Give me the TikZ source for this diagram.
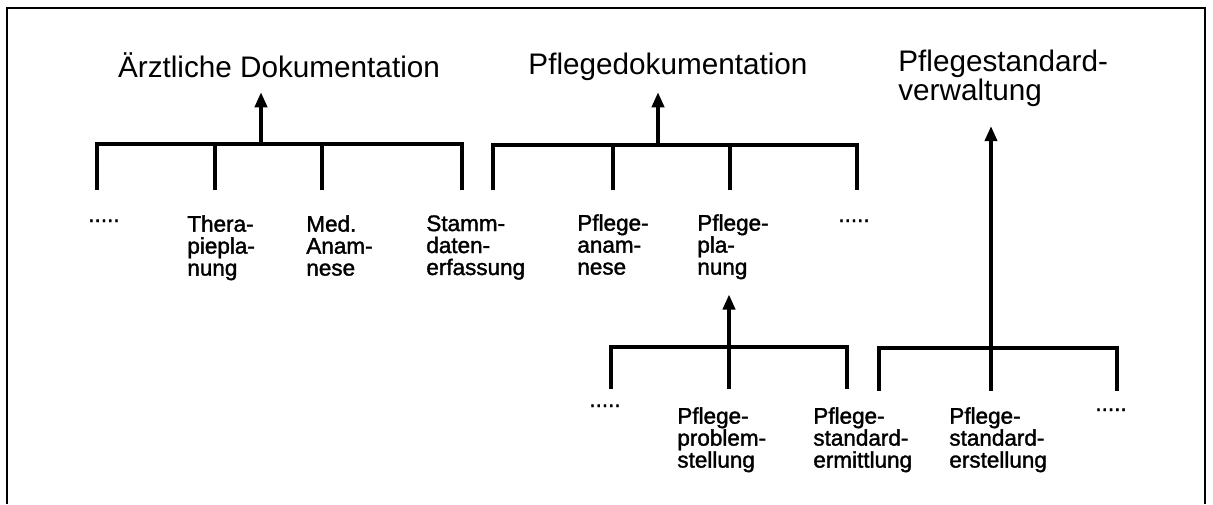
\documentclass[tikz,border=0pt]{standalone}
\usepackage{fontspec}
\setmainfont{Liberation Sans}
\newfontfamily\leafface{Liberation Sans}[FakeBold=1.5]
\usetikzlibrary{arrows.meta}

\newcommand{\titlefont}{\fontsize{16.9}{16.5}\selectfont}
\newcommand{\leaffont}{\leafface\fontsize{12.8}{12.5}\selectfont}

\begin{document}
\begin{tikzpicture}[
    x=0.2mm, y=-0.2mm,
    % Text Styles
    title/.style={inner sep=0pt, text depth=0pt, font=\titlefont},
    leaf/.style={anchor=north west, align=left, inner sep=0pt, font=\leaffont},
    dots/.style={anchor=base west, inner sep=0pt, font=\leaffont},
    % Line Styles
    frame/.style={line width=0.8pt},
    bar/.style={line width=1.8pt},
    up/.style={bar, -{Triangle[width=7pt,length=8.5pt]}, shorten >=3mm}
]
    \useasboundingbox (0,0) rectangle (1213,504);
    \draw[frame] (7,504) |- (1205,8) -- (1205,504);

    % =========================================================================
    % 1. AERZTLICHE DOKUMENTATION
    % =========================================================================
    \node (t1) [title, anchor=base] at (279,77) {Ärztliche Dokumentation};
    \coordinate (k1) at (261,144);
    \coordinate (e11) at (97,190);
    \coordinate (e12) at (215,190);
    \coordinate (e13) at (322,190);
    \coordinate (e14) at (462,190);

    \node (n11) [dots] at (88,222) {.....};
    \node (n12) [leaf] at (187,215) {Thera-\\piepla-\\nung};
    \node (n13) [leaf] at (306,215) {Med.\\Anam-\\nese};
    \node (n14) [leaf] at (426,215) {Stamm-\\daten-\\erfassung};

    \draw[bar] (e11) |- (k1) -| (e14);
    \draw[bar] (e12) -- (e12 |- k1);
    \draw[bar] (e13) -- (e13 |- k1);
    \draw[up] (k1) -- (k1 |- t1.south);

    % =========================================================================
    % 2. PFLEGEDOKUMENTATION
    % =========================================================================
    \node (t2) [title, anchor=base] at (668,74) {Pflegedokumentation};
    \coordinate (k2) at (658,145);
    \coordinate (e21) at (493,190);
    \coordinate (e22) at (613,190);
    \coordinate (e23) at (730,190);
    \coordinate (e24) at (857,190);

    \node (n21) [leaf] at (577,214) {Pflege-\\anam-\\nese};
    \node (n22) [leaf] at (697,214) {Pflege-\\pla-\\nung};
    \node (n23) [dots] at (838,222) {.....};

    \draw[bar] (e21) |- (k2) -| (e24);
    \draw[bar] (e22) -- (e22 |- k2);
    \draw[bar] (e23) -- (e23 |- k2);
    \draw[up, shorten >=3.6mm] (k2) -- (k2 |- t2.south);

    % =========================================================================
    % 3. PFLEGEPLANUNG (lower left)
    % =========================================================================
    \coordinate (k5) at (729,347);
    \coordinate (e51) at (611,389);
    \coordinate (e52) at (729,389);
    \coordinate (e53) at (847,389);

    \node (n51) [dots] at (589,407) {.....};
    \node (n52) [leaf] at (677,407) {Pflege-\\problem-\\stellung};
    \node (n53) [leaf] at (813,407) {Pflege-\\standard-\\ermittlung};

    \draw[bar] (e51) |- (k5) -| (e53);
    \draw[up] (e52) -- (e52 |- n22.south);

    % =========================================================================
    % 4. PFLEGESTANDARDVERWALTUNG
    % =========================================================================
    \node (t3) [title, anchor=north west, align=left] at (898,50) {Pflegestandard-\\verwaltung};
    \coordinate (k6) at (991,348);
    \coordinate (e61) at (879,391);
    \coordinate (e62) at (991,391);
    \coordinate (e63) at (1117,391);

    \node (n62) [leaf] at (949,407) {Pflege-\\standard-\\erstellung};
    \node (n63) [dots] at (1095,411) {.....};

    \draw[bar] (e61) |- (k6) -| (e63);
    \draw[bar] (e62) -- (k6);
    \draw[up, shorten >=5mm] (k6) -- (k6 |- t3.south);

\end{tikzpicture}
\end{document}
